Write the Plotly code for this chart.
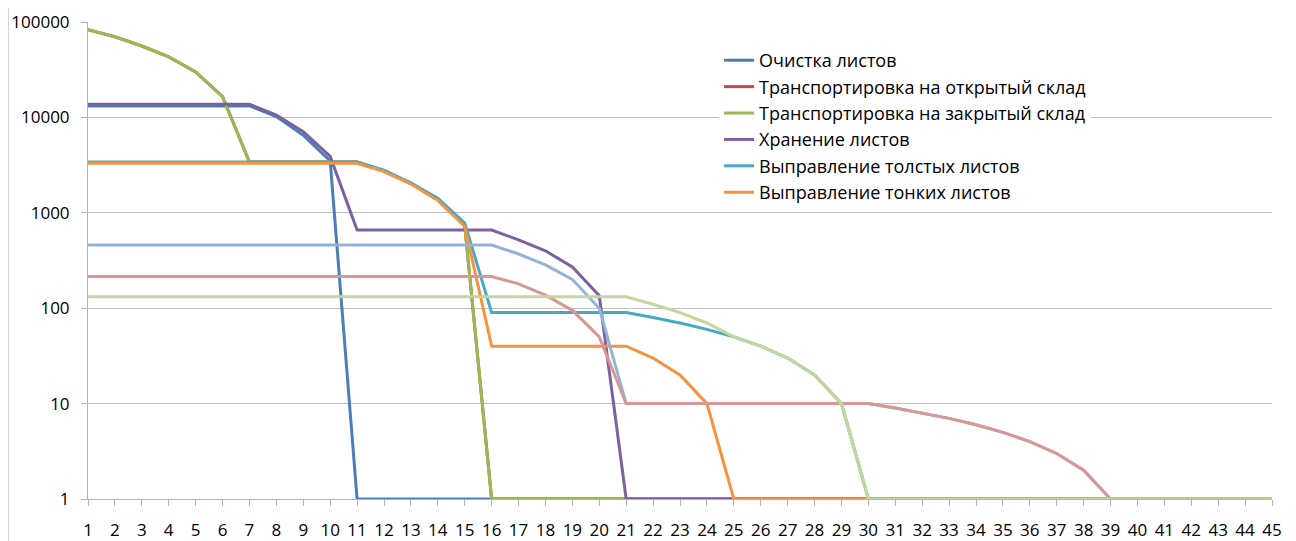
"""Log-scale chart: number of sheets remaining per step, by operation."""

import plotly.graph_objects as go


STEPS = list(range(1, 46))

# values per step (1..45)
cleaning = [13200] * 7 + [10200, 6500, 3500] + [1] * 35
transport_open = [83000, 70000, 56000, 43000, 30000, 16500] + [3400] * 5 + [2750, 2050, 1380, 740] + [1] * 30
transport_closed = [83000, 70000, 56000, 43000, 30000, 16500] + [3400] * 5 + [2750, 2050, 1380, 740] + [1] * 30
storage = [13700] * 7 + [10600, 7100, 3900] + [660] * 6 + [520, 400, 270, 135] + [1] * 25
straight_thick = [3400] * 11 + [2800, 2050, 1420, 780] + [90] * 6 + [80, 70, 60, 50, 40, 30, 20, 10] + [1] * 16
straight_thin = [3300] * 11 + [2700, 2000, 1350, 720] + [40] * 6 + [30, 20, 10] + [1] * 21
series_7 = [460] * 16 + [370, 285, 200, 100] + [10] * 10 + [9, 8, 7, 6, 5, 4, 3, 2, 1] + [1] * 6
series_8 = [215] * 16 + [180, 137, 95, 50] + [10] * 10 + [9, 8, 7, 6, 5, 4, 3, 2, 1] + [1] * 6
series_9 = [132] * 21 + [110, 90, 70, 50, 40, 30, 20, 10] + [1] * 16

Y_TICKS = [1, 10, 100, 1000, 10000, 100000]

SERIES = [
    ("Очистка листов", cleaning, "#4A7EBB", True),
    ("Транспортировка на открытый склад", transport_open, "#BE4B48", True),
    ("Транспортировка на закрытый склад", transport_closed, "#98B954", True),
    ("Хранение листов", storage, "#7D60A0", True),
    ("Выправление толстых листов", straight_thick, "#46AAC5", True),
    ("Выправление тонких листов", straight_thin, "#F69240", True),
    ("Ряд7", series_7, "#95B3D7", False),
    ("Ряд8", series_8, "#D99694", False),
    ("Ряд9", series_9, "#C3D69B", False),
]

FONT = "Open Sans, Noto Sans, sans-serif"

fig = go.Figure()
for name, values, color, in_legend in SERIES:
    fig.add_trace(
        go.Scatter(
            x=STEPS,
            y=values,
            name=name,
            mode="lines",
            line=dict(color=color, width=3),
            showlegend=in_legend,
        )
    )

# the page body adds an 8px offset, so the figure is 8px smaller each way
fig.update_layout(
    width=1288,
    height=533,
    margin=dict(l=80, r=24, t=14, b=42, autoexpand=False),
    paper_bgcolor="white",
    plot_bgcolor="white",
    font=dict(family=FONT, size=17, color="#000000"),
    legend=dict(
        x=0.533,
        y=0.958,
        xanchor="left",
        yanchor="top",
        bgcolor="white",
        font=dict(family=FONT, size=18),
    ),
    xaxis=dict(
        range=[1, 45],
        tick0=1,
        dtick=1,
        showgrid=False,
        zeroline=False,
        showline=True,
        linecolor="#B3B3B3",
        ticks="outside",
        ticklen=6,
        tickcolor="#B3B3B3",
        ticklabelstandoff=10,
        automargin=False,
    ),
    yaxis=dict(
        type="log",
        range=[0, 5],
        tickvals=Y_TICKS,
        ticktext=[str(v) for v in Y_TICKS],
        showgrid=True,
        gridcolor="#C0C0C0",
        gridwidth=1,
        zeroline=False,
        showline=True,
        linecolor="#B3B3B3",
        ticks="outside",
        ticklen=6,
        tickcolor="#B3B3B3",
        ticklabelstandoff=8,
        automargin=False,
    ),
    shapes=[
        dict(type="line", xref="paper", yref="paper", x0=-0.0676, x1=-0.0676,
             y0=-0.09, y1=1.034, line=dict(color="#A0A0A0", width=1)),
        dict(type="line", xref="paper", yref="paper", x0=1.0177, x1=1.0177,
             y0=-0.09, y1=1.034, line=dict(color="#A0A0A0", width=1)),
    ],
)

fig.write_html("out.html")
